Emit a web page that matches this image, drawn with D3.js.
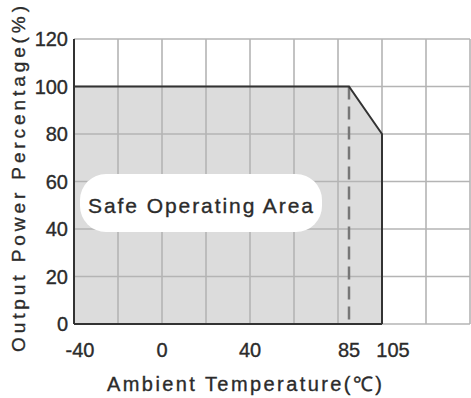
<!DOCTYPE html>
<meta charset="utf-8">
<style>
    body { margin: 0; background: #fff; }
    text { font-family: "Liberation Sans", Arial, sans-serif; fill: #2b2b2b; stroke: #2b2b2b; stroke-width: 0.35px; }
</style>
<body>
<script src="https://d3js.org/d3.v7.min.js"></script>
<script>
    // derating curve (temperature in C, output power in %)
    var tempPoints = [-40, 85, 100, 100];
    var powerPoints = [100, 100, 80, 0];
    var xTickValues = [-40, 0, 40, 85, 105];
    var yTickValues = [0, 20, 40, 60, 80, 100, 120];
    var gridX = [-40, -20, 0, 20, 40, 60, 80, 100, 120, 140];
    var dashTemp = 85;

    var margin = {top: 39, right: 1, bottom: 74, left: 74},
        width = 471 - margin.left - margin.right,
        height = 398 - margin.top - margin.bottom;

    var x = d3.scaleLinear().domain([-40, 140]).range([0, width]);
    var y = d3.scaleLinear().domain([0, 120]).range([height, 0]);

    var svg = d3.select("body").append("svg")
        .attr("width", 471)
        .attr("height", 398)
        .append("g")
        .attr("transform", "translate(" + margin.left + "," + margin.top + ")");

    var area = tempPoints.map(function(t, i) { return [t, powerPoints[i]]; });
    area.unshift([-40, 0]);

    var line = d3.line()
        .x(function(d) { return x(d[0]); })
        .y(function(d) { return y(d[1]); });

    svg.append("path")
        .datum(area)
        .attr("d", line)
        .style("fill", "#dcdcdc");

    // grid
    svg.selectAll(".vgrid")
        .data(gridX)
        .enter().append("line")
        .attr("x1", function(d) { return x(d); })
        .attr("x2", function(d) { return x(d); })
        .attr("y1", 0)
        .attr("y2", height)
        .style("stroke", "#b4b4b4")
        .style("stroke-width", 1.6);

    svg.selectAll(".hgrid")
        .data(yTickValues)
        .enter().append("line")
        .attr("x1", 0)
        .attr("x2", width)
        .attr("y1", function(d) { return y(d); })
        .attr("y2", function(d) { return y(d); })
        .style("stroke", "#b4b4b4")
        .style("stroke-width", 1.6);

    // dashed line at 85
    svg.append("line")
        .attr("x1", x(dashTemp))
        .attr("x2", x(dashTemp))
        .attr("y1", y(100))
        .attr("y2", y(0))
        .style("stroke", "#777")
        .style("stroke-width", 2.5)
        .style("stroke-dasharray", "13,7");

    // outline
    svg.append("path")
        .datum(area.slice(1))
        .attr("d", line)
        .style("fill", "none")
        .style("stroke", "#333")
        .style("stroke-width", 2);

    // axes
    svg.append("line")
        .attr("x1", 0).attr("x2", 0).attr("y1", 0).attr("y2", height)
        .style("stroke", "#333").style("stroke-width", 2);
    svg.append("line")
        .attr("x1", 0).attr("x2", x(100)).attr("y1", height).attr("y2", height)
        .style("stroke", "#333").style("stroke-width", 2);

    svg.selectAll(".ylab")
        .data(yTickValues)
        .enter().append("text")
        .attr("x", -6)
        .attr("y", function(d) { return y(d); })
        .attr("dy", "0.36em")
        .style("text-anchor", "end")
        .style("font-size", "20px")
        .text(function(d) { return d; });

    svg.selectAll(".xlab")
        .data(xTickValues)
        .enter().append("text")
        .attr("x", function(d) { return x(d) + (d < 0 ? 6 : 0); })
        .attr("y", height + 33)
        .style("text-anchor", "middle")
        .style("font-size", "20px")
        .text(function(d) { return d; });

    svg.append("text")
        .attr("x", 33)
        .attr("y", height + 67)
        .attr("textLength", 275)
        .attr("lengthAdjust", "spacing")
        .style("font-size", "20px")
        .text("Ambient Temperature(℃)");

    svg.append("text")
        .attr("transform", "translate(-49," + (height + 28) + ") rotate(-90)")
        .attr("textLength", 346)
        .attr("lengthAdjust", "spacing")
        .style("font-size", "19px")
        .text("Output Power Percentage(%)");

    // label box
    svg.append("rect")
        .attr("x", 6)
        .attr("y", 135)
        .attr("width", 242)
        .attr("height", 58)
        .attr("rx", 26)
        .style("fill", "#fff");

    svg.append("text")
        .attr("x", 14)
        .attr("y", 174)
        .attr("textLength", 225)
        .attr("lengthAdjust", "spacing")
        .style("font-size", "21px")
        .text("Safe Operating Area");
</script>
</body>
